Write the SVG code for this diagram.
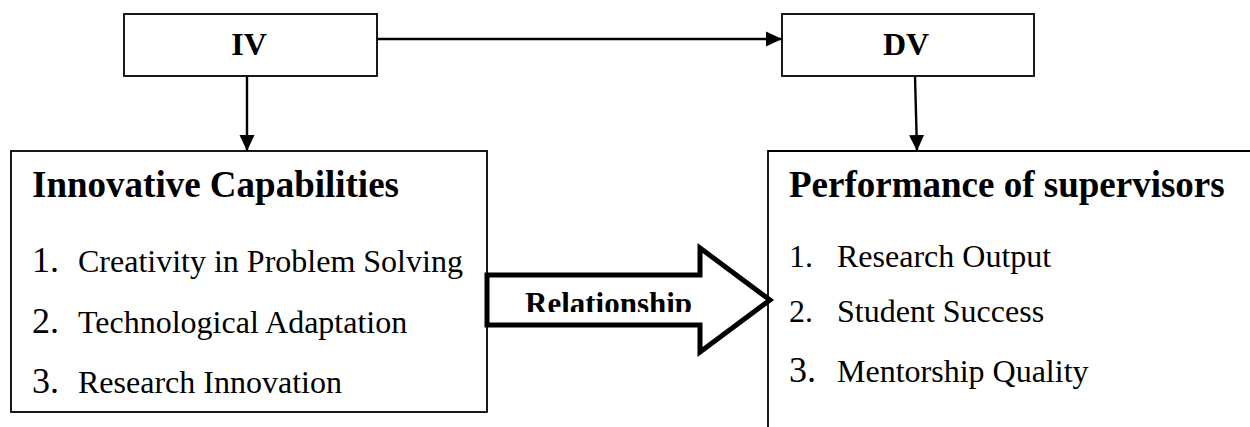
<svg xmlns="http://www.w3.org/2000/svg" width="1250" height="427" viewBox="0 0 1250 427">
<style>
.box{fill:#fff;stroke:#000;stroke-width:1.8}
.conn{fill:none;stroke:#000;stroke-width:2.4}
.t{font-family:"Liberation Serif","Times New Roman",serif;fill:#000}
.b{font-weight:bold}
</style>
<defs>
<marker id="ah" markerWidth="16" markerHeight="16" refX="16" refY="8" orient="auto" markerUnits="userSpaceOnUse">
<path d="M0,0.5 L16,8 L0,15.5 Z" fill="#000"/>
</marker>
<clipPath id="relclip"><rect x="480" y="250" width="300" height="62"/></clipPath>
</defs>
<rect width="1250" height="427" fill="#fff"/>
<g id="iv">
<rect class="box" x="124" y="14" width="253" height="62"/>
<text class="t b" x="249" y="55" font-size="32" text-anchor="middle">IV</text>
</g>
<g id="dv">
<rect class="box" x="782" y="14" width="252" height="62"/>
<text class="t b" x="906" y="55" font-size="32" text-anchor="middle">DV</text>
</g>
<g id="innovative">
<rect class="box" x="11" y="151" width="476" height="261"/>
<text class="t b" x="32" y="197" font-size="37">Innovative Capabilities</text>
<text class="t" x="32" y="272" font-size="36">1.</text>
<text class="t" x="78" y="272" font-size="32">Creativity in Problem Solving</text>
<text class="t" x="32" y="333" font-size="36">2.</text>
<text class="t" x="78" y="333" font-size="32">Technological Adaptation</text>
<text class="t" x="32" y="393" font-size="36">3.</text>
<text class="t" x="78" y="393" font-size="32">Research Innovation</text>
</g>
<g id="performance">
<path class="box" d="M768,440 L768,151 L1260,151" fill="none"/>
<text class="t b" x="789" y="197" font-size="37">Performance of supervisors</text>
<text class="t" x="789" y="267" font-size="32">1.</text>
<text class="t" x="837" y="267" font-size="32">Research Output</text>
<text class="t" x="789" y="322" font-size="32">2.</text>
<text class="t" x="837" y="322" font-size="32">Student Success</text>
<text class="t" x="789" y="382" font-size="36">3.</text>
<text class="t" x="837" y="382" font-size="32">Mentorship Quality</text>
</g>
<g id="relationship">
<polygon points="487,275 700,275 700,248 770,300 700,352 700,325 487,325" fill="#fff" stroke="#000" stroke-width="5" stroke-linejoin="miter"/>
<text class="t b" x="525" y="314" font-size="31" clip-path="url(#relclip)">Relationship</text>
</g>
<g id="connectors">
<line class="conn" x1="377" y1="39" x2="782" y2="39" marker-end="url(#ah)"/>
<line class="conn" x1="247" y1="76" x2="247" y2="151" marker-end="url(#ah)"/>
<line class="conn" x1="915" y1="76" x2="917" y2="151" marker-end="url(#ah)"/>
</g>
</svg>
